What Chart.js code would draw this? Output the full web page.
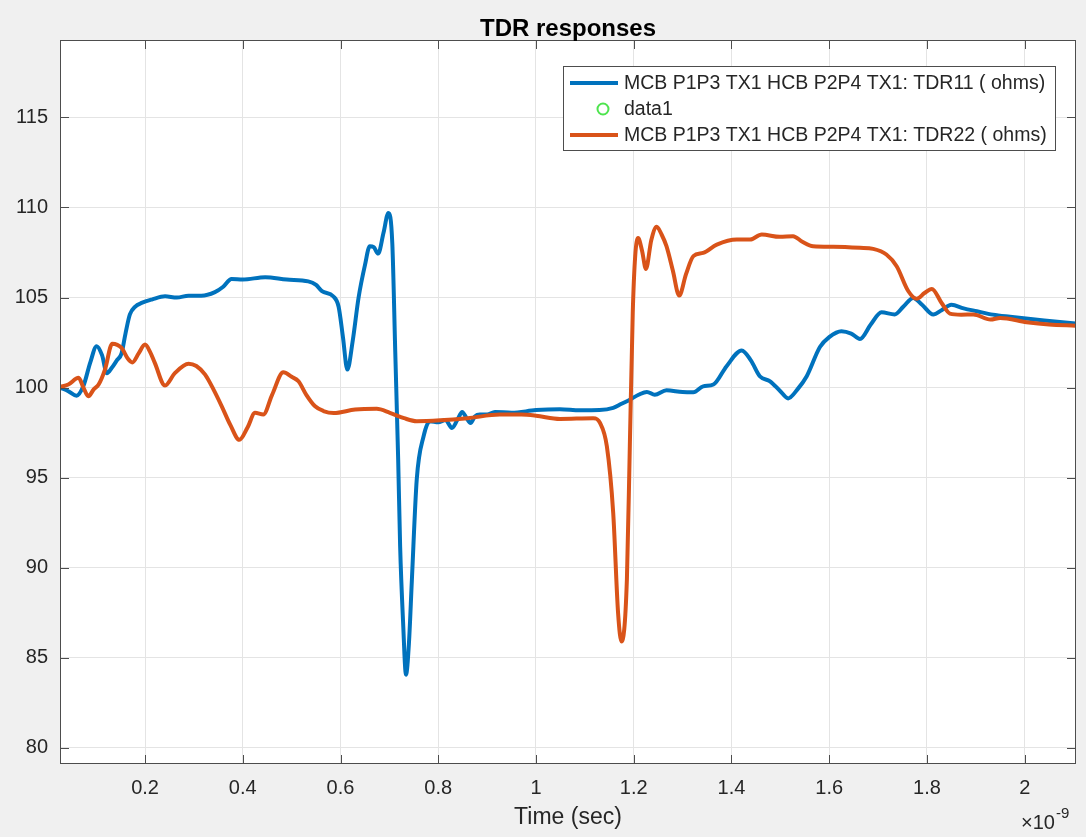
<!DOCTYPE html>
<html>
<head>
<meta charset="utf-8">
<title>TDR responses</title>
<script src="https://cdn.jsdelivr.net/npm/chart.js@4.4.1/dist/chart.umd.min.js"></script>
<style>
  html, body { margin: 0; padding: 0; background: #f0f0f0; }
  #wrap { width: 1086px; height: 837px; }
</style>
</head>
<body>
<div id="wrap"><canvas id="tdrChart" width="1086" height="837"></canvas></div>
<script>
// time axis in units of 1e-9 s
const xTicks = [0.2, 0.4, 0.6, 0.8, 1, 1.2, 1.4, 1.6, 1.8, 2];
const yTicks = [80, 85, 90, 95, 100, 105, 110, 115];

const tdr11Label = 'MCB P1P3 TX1 HCB P2P4 TX1: TDR11 ( ohms)';
const tdr22Label = 'MCB P1P3 TX1 HCB P2P4 TX1: TDR22 ( ohms)';
const markerLabel = 'data1';

const tdr11Time = [0.026, 0.043, 0.060, 0.074, 0.088, 0.101, 0.112, 0.122, 0.132, 0.142,
  0.152, 0.160, 0.169, 0.180, 0.193, 0.215, 0.241, 0.265, 0.289, 0.315,
  0.343, 0.360, 0.377, 0.400, 0.446, 0.490, 0.534, 0.550, 0.562, 0.585,
  0.596, 0.605, 0.614, 0.625, 0.637, 0.650, 0.660, 0.668, 0.677, 0.688,
  0.698, 0.706, 0.712, 0.718, 0.722, 0.728, 0.734, 0.740, 0.746, 0.756,
  0.770, 0.783, 0.800, 0.815, 0.828, 0.839, 0.849, 0.858, 0.866, 0.875,
  0.885, 0.900, 0.916, 0.950, 1.000, 1.049, 1.090, 1.130, 1.158, 1.175,
  1.192, 1.210, 1.227, 1.243, 1.267, 1.300, 1.322, 1.342, 1.363, 1.390,
  1.421, 1.440, 1.458, 1.479, 1.500, 1.516, 1.535, 1.554, 1.581, 1.600,
  1.625, 1.645, 1.663, 1.685, 1.707, 1.734, 1.752, 1.772, 1.790, 1.813,
  1.830, 1.850, 1.875, 1.902, 1.935, 1.970, 2.040, 2.104];
const tdr11Ohms = [100.0, 99.8, 99.55, 100.1, 101.4, 102.3, 101.8, 100.8, 101.1, 101.5,
  101.9, 103.0, 104.06, 104.5, 104.7, 104.9, 105.07, 105.0, 105.1, 105.1,
  105.3, 105.6, 106.03, 106.0, 106.13, 106.0, 105.9, 105.7, 105.35, 105.07,
  104.5, 102.8, 101.0, 102.6, 105.0, 106.8, 107.85, 107.8, 107.44, 108.6,
  109.7, 108.0, 102.0, 96.0, 91.2, 87.0, 84.06, 85.8, 89.3, 94.9,
  97.3, 98.13, 98.07, 98.2, 97.76, 98.2, 98.65, 98.3, 98.04, 98.4,
  98.5, 98.5, 98.65, 98.6, 98.75, 98.8, 98.74, 98.75, 98.87, 99.1,
  99.33, 99.6, 99.76, 99.6, 99.85, 99.75, 99.74, 100.07, 100.17, 101.19,
  102.06, 101.5, 100.63, 100.35, 99.8, 99.4, 99.9, 100.63, 102.25, 102.8,
  103.13, 103.0, 102.7, 103.5, 104.18, 104.06, 104.5, 104.98, 104.6, 104.06,
  104.3, 104.6, 104.4, 104.24, 104.05, 103.93, 103.72, 103.56];

const tdr22Time = [0.026, 0.043, 0.064, 0.074, 0.084, 0.095, 0.105, 0.118, 0.133, 0.152,
  0.165, 0.174, 0.187, 0.200, 0.210, 0.220, 0.241, 0.261, 0.289, 0.305,
  0.323, 0.340, 0.357, 0.375, 0.393, 0.410, 0.425, 0.442, 0.460, 0.483,
  0.500, 0.514, 0.530, 0.548, 0.565, 0.586, 0.630, 0.674, 0.701, 0.730,
  0.756, 0.804, 0.860, 0.926, 0.970, 1.000, 1.049, 1.117, 1.131, 1.145,
  1.158, 1.168, 1.175, 1.186, 1.192, 1.198, 1.203, 1.209, 1.217, 1.225,
  1.236, 1.247, 1.257, 1.267, 1.280, 1.293, 1.307, 1.322, 1.342, 1.370,
  1.411, 1.438, 1.462, 1.499, 1.526, 1.545, 1.567, 1.608, 1.663, 1.690,
  1.717, 1.738, 1.762, 1.779, 1.795, 1.810, 1.830, 1.847, 1.870, 1.895,
  1.930, 1.950, 2.004, 2.050, 2.104];
const tdr22Ohms = [100.04, 100.17, 100.54, 100.0, 99.52, 99.9, 100.17, 101.0, 102.44, 102.2,
  101.6, 101.4, 101.9, 102.39, 102.0, 101.37, 100.11, 100.8, 101.33, 101.2,
  100.72, 99.9, 98.96, 97.9, 97.1, 97.8, 98.6, 98.5, 99.6, 100.85,
  100.6, 100.35, 99.6, 98.96, 98.7, 98.59, 98.78, 98.82, 98.6, 98.3,
  98.13, 98.18, 98.3, 98.5, 98.5, 98.44, 98.26, 98.3, 98.04, 96.74,
  93.04, 87.48, 85.9, 89.33, 96.74, 104.15, 107.3, 108.3, 107.6, 106.59,
  108.2, 108.93, 108.5, 107.85, 106.5, 105.11, 106.3, 107.3, 107.48, 107.94,
  108.22, 108.22, 108.5, 108.37, 108.41, 108.1, 107.85, 107.82, 107.76, 107.7,
  107.39, 106.74, 105.35, 104.93, 105.25, 105.48, 104.7, 104.11, 104.05, 104.06,
  103.78, 103.87, 103.63, 103.5, 103.44];

const blue = '#0072bd';
const orange = '#d95319';
const green = '#4ee44e';
const textColor = '#262626';
const fontFamily = '"Liberation Sans", Arial, Helvetica, sans-serif';

function toPoints(xs, ys) {
    const pts = [];
    for (let i = 0; i < xs.length; i++) {
        pts.push({ x: xs[i], y: ys[i] });
    }
    return pts;
}

// figure background, axes box, inward ticks, title, legend, exponent
const matlabFrame = {
    id: 'matlabFrame',
    beforeDraw(chart) {
        const ctx = chart.ctx;
        const a = chart.chartArea;
        ctx.save();
        ctx.fillStyle = '#f0f0f0';
        ctx.fillRect(0, 0, chart.width, chart.height);
        ctx.fillStyle = '#ffffff';
        ctx.fillRect(a.left, a.top, a.right - a.left, a.bottom - a.top);
        ctx.restore();
    },
    afterDatasetsDraw(chart) {
        const ctx = chart.ctx;
        const a = chart.chartArea;
        const xs = chart.scales.x;
        const ys = chart.scales.y;
        ctx.save();
        ctx.strokeStyle = '#4d4d4d';
        ctx.lineWidth = 1;
        ctx.strokeRect(a.left + 0.5, a.top + 0.5, a.right - a.left - 1, a.bottom - a.top - 1);
        ctx.beginPath();
        xTicks.forEach(function (v) {
            const px = Math.round(xs.getPixelForValue(v)) + 0.5;
            ctx.moveTo(px, a.bottom);
            ctx.lineTo(px, a.bottom - 9);
            ctx.moveTo(px, a.top);
            ctx.lineTo(px, a.top + 9);
        });
        yTicks.forEach(function (v) {
            const py = Math.round(ys.getPixelForValue(v)) + 0.5;
            ctx.moveTo(a.left, py);
            ctx.lineTo(a.left + 9, py);
            ctx.moveTo(a.right, py);
            ctx.lineTo(a.right - 9, py);
        });
        ctx.stroke();
        ctx.restore();
    },
    afterDraw(chart) {
        const ctx = chart.ctx;
        const a = chart.chartArea;
        ctx.save();

        // title
        ctx.fillStyle = '#000000';
        ctx.font = 'bold 24px ' + fontFamily;
        ctx.textAlign = 'center';
        ctx.textBaseline = 'middle';
        ctx.fillText('TDR responses', (a.left + a.right) / 2, 29);

        // exponent label
        ctx.fillStyle = textColor;
        ctx.textAlign = 'left';
        ctx.textBaseline = 'alphabetic';
        ctx.font = '20px ' + fontFamily;
        ctx.fillText('\u00d710', 1021, 829);
        ctx.font = '15px ' + fontFamily;
        ctx.fillText('-9', 1056, 818);

        // legend
        const bx = 563.5, by = 66.5, bw = 492, bh = 84;
        ctx.fillStyle = '#ffffff';
        ctx.fillRect(bx, by, bw, bh);
        ctx.strokeStyle = '#4d4d4d';
        ctx.lineWidth = 1;
        ctx.strokeRect(bx, by, bw, bh);

        const rows = [83, 109, 135];
        const sets = chart.data.datasets;
        ctx.font = '19.5px ' + fontFamily;
        ctx.textBaseline = 'middle';
        for (let i = 0; i < sets.length; i++) {
            const ds = sets[i];
            const ry = rows[i];
            if (ds.showLine === false) {
                ctx.beginPath();
                ctx.strokeStyle = ds.borderColor;
                ctx.lineWidth = 2;
                ctx.arc(603, ry, 5.5, 0, Math.PI * 2);
                ctx.stroke();
            } else {
                ctx.beginPath();
                ctx.strokeStyle = ds.borderColor;
                ctx.lineWidth = 4;
                ctx.moveTo(570, ry);
                ctx.lineTo(618, ry);
                ctx.stroke();
            }
            ctx.fillStyle = textColor;
            ctx.fillText(ds.label, 624, ry + 1);
        }
        ctx.restore();
    }
};

const ctx = document.getElementById('tdrChart').getContext('2d');
Chart.defaults.font.family = fontFamily;
Chart.defaults.font.size = 20;
Chart.defaults.color = textColor;

const tdrChart = new Chart(ctx, {
    type: 'line',
    data: {
        datasets: [{
            label: tdr11Label,
            data: toPoints(tdr11Time, tdr11Ohms),
            borderColor: blue,
            borderWidth: 4,
            pointRadius: 0,
            cubicInterpolationMode: 'monotone',
            order: 2
        }, {
            label: markerLabel,
            data: [],
            borderColor: green,
            backgroundColor: 'rgba(0,0,0,0)',
            showLine: false,
            pointStyle: 'circle',
            pointRadius: 6
        }, {
            label: tdr22Label,
            data: toPoints(tdr22Time, tdr22Ohms),
            borderColor: orange,
            borderWidth: 4,
            pointRadius: 0,
            cubicInterpolationMode: 'monotone',
            order: 1
        }]
    },
    options: {
        responsive: false,
        animation: false,
        layout: { padding: { top: 40, right: 10, bottom: 0, left: 0 } },
        plugins: {
            legend: { display: false },
            tooltip: { enabled: false }
        },
        scales: {
            x: {
                type: 'linear',
                min: 0.026,
                max: 2.105,
                afterFit: function (scale) { scale.height = 73; },
                afterBuildTicks: function (scale) {
                    scale.ticks = xTicks.map(function (v) { return { value: v }; });
                },
                ticks: {
                    padding: 12,
                    maxRotation: 0,
                    autoSkip: false,
                    callback: function (v) { return String(v); }
                },
                grid: { color: '#e4e4e4', drawTicks: false },
                border: { display: false },
                title: {
                    display: true,
                    text: 'Time (sec)',
                    font: { size: 23 },
                    padding: { top: 4, bottom: 6 }
                }
            },
            y: {
                min: 79.1,
                max: 119.3,
                afterFit: function (scale) { scale.width = 60; },
                afterBuildTicks: function (scale) {
                    scale.ticks = yTicks.map(function (v) { return { value: v }; });
                },
                ticks: {
                    padding: 12,
                    autoSkip: false,
                    callback: function (v) { return String(v); }
                },
                grid: { color: '#e4e4e4', drawTicks: false },
                border: { display: false }
            }
        }
    },
    plugins: [matlabFrame]
});
</script>
</body>
</html>
